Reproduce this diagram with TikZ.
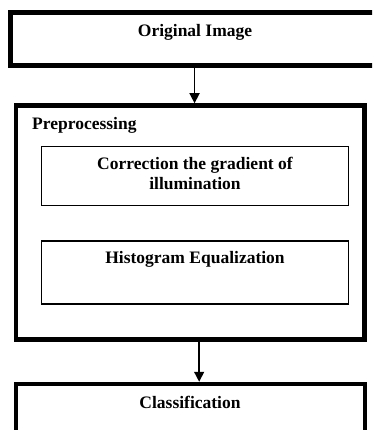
\documentclass[tikz,border=0pt]{standalone}
\usepackage{fontspec}
\setmainfont{Liberation Serif}
\usetikzlibrary{arrows.meta}
\begin{document}
\begin{tikzpicture}[x=1pt,y=-1pt,
  thickbox/.style={draw=black,line width=4.5pt,minimum width=#1,inner sep=0pt},
  thinbox/.style={draw=black,line width=1.5pt,inner sep=0pt},
  lbl/.style={font=\fontsize{17.5}{19.5}\selectfont\bfseries,inner sep=0pt,anchor=base,align=center},
  flow/.style={line width=1.5pt,-{Triangle[width=10pt,length=10pt]}}]
\useasboundingbox (0,0) rectangle (372,430);
\clip (0,0) rectangle (372,430);
% boxes
\node[thickbox=369.7pt,minimum height=53.2pt] (orig) at (195.15,38.9) {};
\node[thickbox=348.7pt,minimum height=234.2pt] (pre) at (190.15,222.6) {};
\node[thinbox,minimum width=306.6pt,minimum height=58.6pt] (corr) at (195,176) {};
\node[thinbox,minimum width=306.6pt,minimum height=63pt] (hist) at (195,272.5) {};
\node[thickbox=349.2pt,minimum height=76pt] (cls) at (190.4,422) {};
% labels
\node[lbl] (origt) at (195,37) {Original Image};
\node[lbl,anchor=base west] (pret) at (32,130) {Preprocessing};
\node[lbl] (corrt) at (195,189.5) {Correction the gradient of\\illumination};
\node[lbl] (histt) at (195,263) {Histogram Equalization};
\node[lbl] (clst) at (190,408) {Classification};
% connectors
\draw[flow] ([xshift=-0.6pt]orig.south) -- ([xshift=-0.6pt]orig.south |- pre.north);
\draw[flow] ([xshift=9pt]pre.south) -- ([xshift=9pt]pre.south |- cls.north);
\end{tikzpicture}
\end{document}
